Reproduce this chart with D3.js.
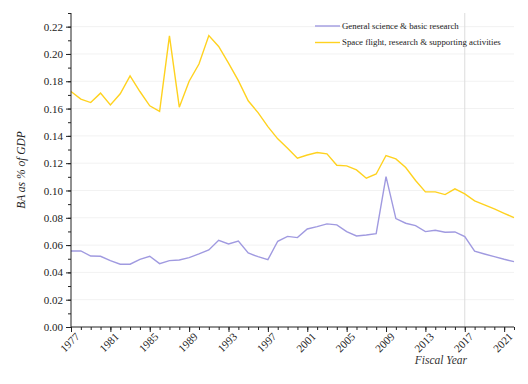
<!DOCTYPE html>
<html>
<head>
<meta charset="UTF-8">
<script src="https://cdn.jsdelivr.net/npm/d3@7"></script>
<style>
body { margin: 0; background: #fff; }
text { font-family: "Liberation Serif", "DejaVu Serif", serif; }
</style>
</head>
<body>
<script>
var years = d3.range(1977, 2023);
var science = [0.0557, 0.0557, 0.0520, 0.0518, 0.0486, 0.0460, 0.0460, 0.0496, 0.0518, 0.0464,
               0.0486, 0.0491, 0.0508, 0.0535, 0.0564, 0.0635, 0.0608, 0.0630, 0.0542, 0.0515,
               0.0493, 0.0628, 0.0664, 0.0655, 0.0718, 0.0735, 0.0755, 0.0748, 0.0699, 0.0667,
               0.0674, 0.0684, 0.1102, 0.0794, 0.0760, 0.0743, 0.0699, 0.0709, 0.0694, 0.0696,
               0.0662, 0.0555, 0.0535, 0.0515, 0.0496, 0.0479];
var space = [0.1725, 0.1669, 0.1644, 0.1713, 0.1627, 0.1708, 0.1840, 0.1725, 0.1620, 0.1580,
             0.2133, 0.1610, 0.1800, 0.1926, 0.2135, 0.2055, 0.1933, 0.1805, 0.1657, 0.1570,
             0.1468, 0.1378, 0.1310, 0.1237, 0.1260, 0.1278, 0.1268, 0.1185, 0.1180, 0.1151,
             0.1090, 0.1121, 0.1256, 0.1231, 0.1168, 0.1073, 0.0990, 0.0990, 0.0970, 0.1012,
             0.0975, 0.0924, 0.0894, 0.0865, 0.0833, 0.0801];
var seriesNames = ["General science & basic research", "Space flight, research & supporting activities"];
var seriesColors = ["#a09ae0", "#ffd21f"];
var yTicks = [0, 0.02, 0.04, 0.06, 0.08, 0.10, 0.12, 0.14, 0.16, 0.18, 0.20, 0.22];
var xTicks = [1977, 1981, 1985, 1989, 1993, 1997, 2001, 2005, 2009, 2013, 2017, 2021];
var markYear = 2017;

var svg = d3.select("body").append("svg")
    .attr("width", 528)
    .attr("height", 384);

var x = d3.scaleLinear().domain([1977, 2022]).range([71, 514]);
var y = d3.scaleLinear().domain([0, 0.23]).range([327, 13]);

// grid
svg.append("g").selectAll("line")
    .data(yTicks.slice(1))
    .enter().append("line")
    .attr("x1", x(1977)).attr("x2", x(2022))
    .attr("y1", function(d){ return y(d); })
    .attr("y2", function(d){ return y(d); })
    .attr("stroke", "#f2f2f2")
    .attr("stroke-width", 1);

svg.append("line")
    .attr("x1", x(markYear)).attr("x2", x(markYear))
    .attr("y1", y(0.23)).attr("y2", y(0))
    .attr("stroke", "#dcdcdc")
    .attr("stroke-width", 1);

// lines
var data = [science, space];
var line = d3.line()
    .x(function(d, i){ return x(years[i]); })
    .y(function(d){ return y(d); });
svg.append("g").selectAll("path")
    .data(data)
    .enter().append("path")
    .attr("d", line)
    .attr("fill", "none")
    .attr("stroke", function(d, i){ return seriesColors[i]; })
    .attr("stroke-width", 1.4);

// axes
var yMinor = svg.append("g").attr("transform", "translate(" + x(1977) + ",0)")
    .call(d3.axisLeft(y).tickValues(d3.range(0, 0.2301, 0.01)).tickSize(3).tickFormat(""));
var yAxis = svg.append("g").attr("transform", "translate(" + x(1977) + ",0)")
    .call(d3.axisLeft(y).tickValues(yTicks).tickSize(5).tickFormat(d3.format(".2f")));
yAxis.selectAll("text").attr("font-size", 11).attr("fill", "#222")
    .attr("font-family", "Liberation Serif");
yMinor.select(".domain").remove();
yAxis.select(".domain").attr("d", "M0," + y(0.23) + "V" + y(0));

var xMinor = svg.append("g").attr("transform", "translate(0," + y(0) + ")")
    .call(d3.axisBottom(x).tickValues(d3.range(1977, 2023)).tickSize(3).tickFormat(""));
xMinor.select(".domain").remove();
var xAxis = svg.append("g").attr("transform", "translate(0," + y(0) + ")")
    .call(d3.axisBottom(x).tickValues(xTicks).tickSize(5).tickFormat(d3.format("d")));
xAxis.select(".domain").attr("d", "M" + x(1977) + ",0H" + x(2022));
xAxis.selectAll("text")
    .attr("font-size", 11).attr("fill", "#222")
    .attr("font-family", "Liberation Serif")
    .attr("text-anchor", "end")
    .attr("dx", "-0.1em").attr("dy", "0.5em")
    .attr("transform", "rotate(-45)");

svg.selectAll(".domain").attr("stroke", "#222");
svg.selectAll(".tick line").attr("stroke", "#222");

// axis titles
svg.append("text")
    .attr("transform", "translate(25,170) rotate(-90)")
    .attr("text-anchor", "middle")
    .attr("font-size", 11.5)
    .attr("font-style", "italic")
    .attr("fill", "#222")
    .text("BA as % of GDP");
svg.append("text")
    .attr("x", 467).attr("y", 364)
    .attr("text-anchor", "end")
    .attr("font-size", 11.5)
    .attr("font-style", "italic")
    .attr("fill", "#333")
    .text("Fiscal Year");

// legend
var legend = svg.append("g").selectAll("g")
    .data(seriesNames)
    .enter().append("g")
    .attr("transform", function(d, i){ return "translate(315," + (26 + i * 16.5) + ")"; });
legend.append("line")
    .attr("x1", 0).attr("x2", 25)
    .attr("stroke", function(d, i){ return seriesColors[i]; })
    .attr("stroke-width", 1.4);
legend.append("text")
    .attr("x", 27).attr("dy", "0.32em")
    .attr("font-size", 8.8)
    .attr("fill", "#222")
    .text(function(d){ return d; });
</script>
</body>
</html>
